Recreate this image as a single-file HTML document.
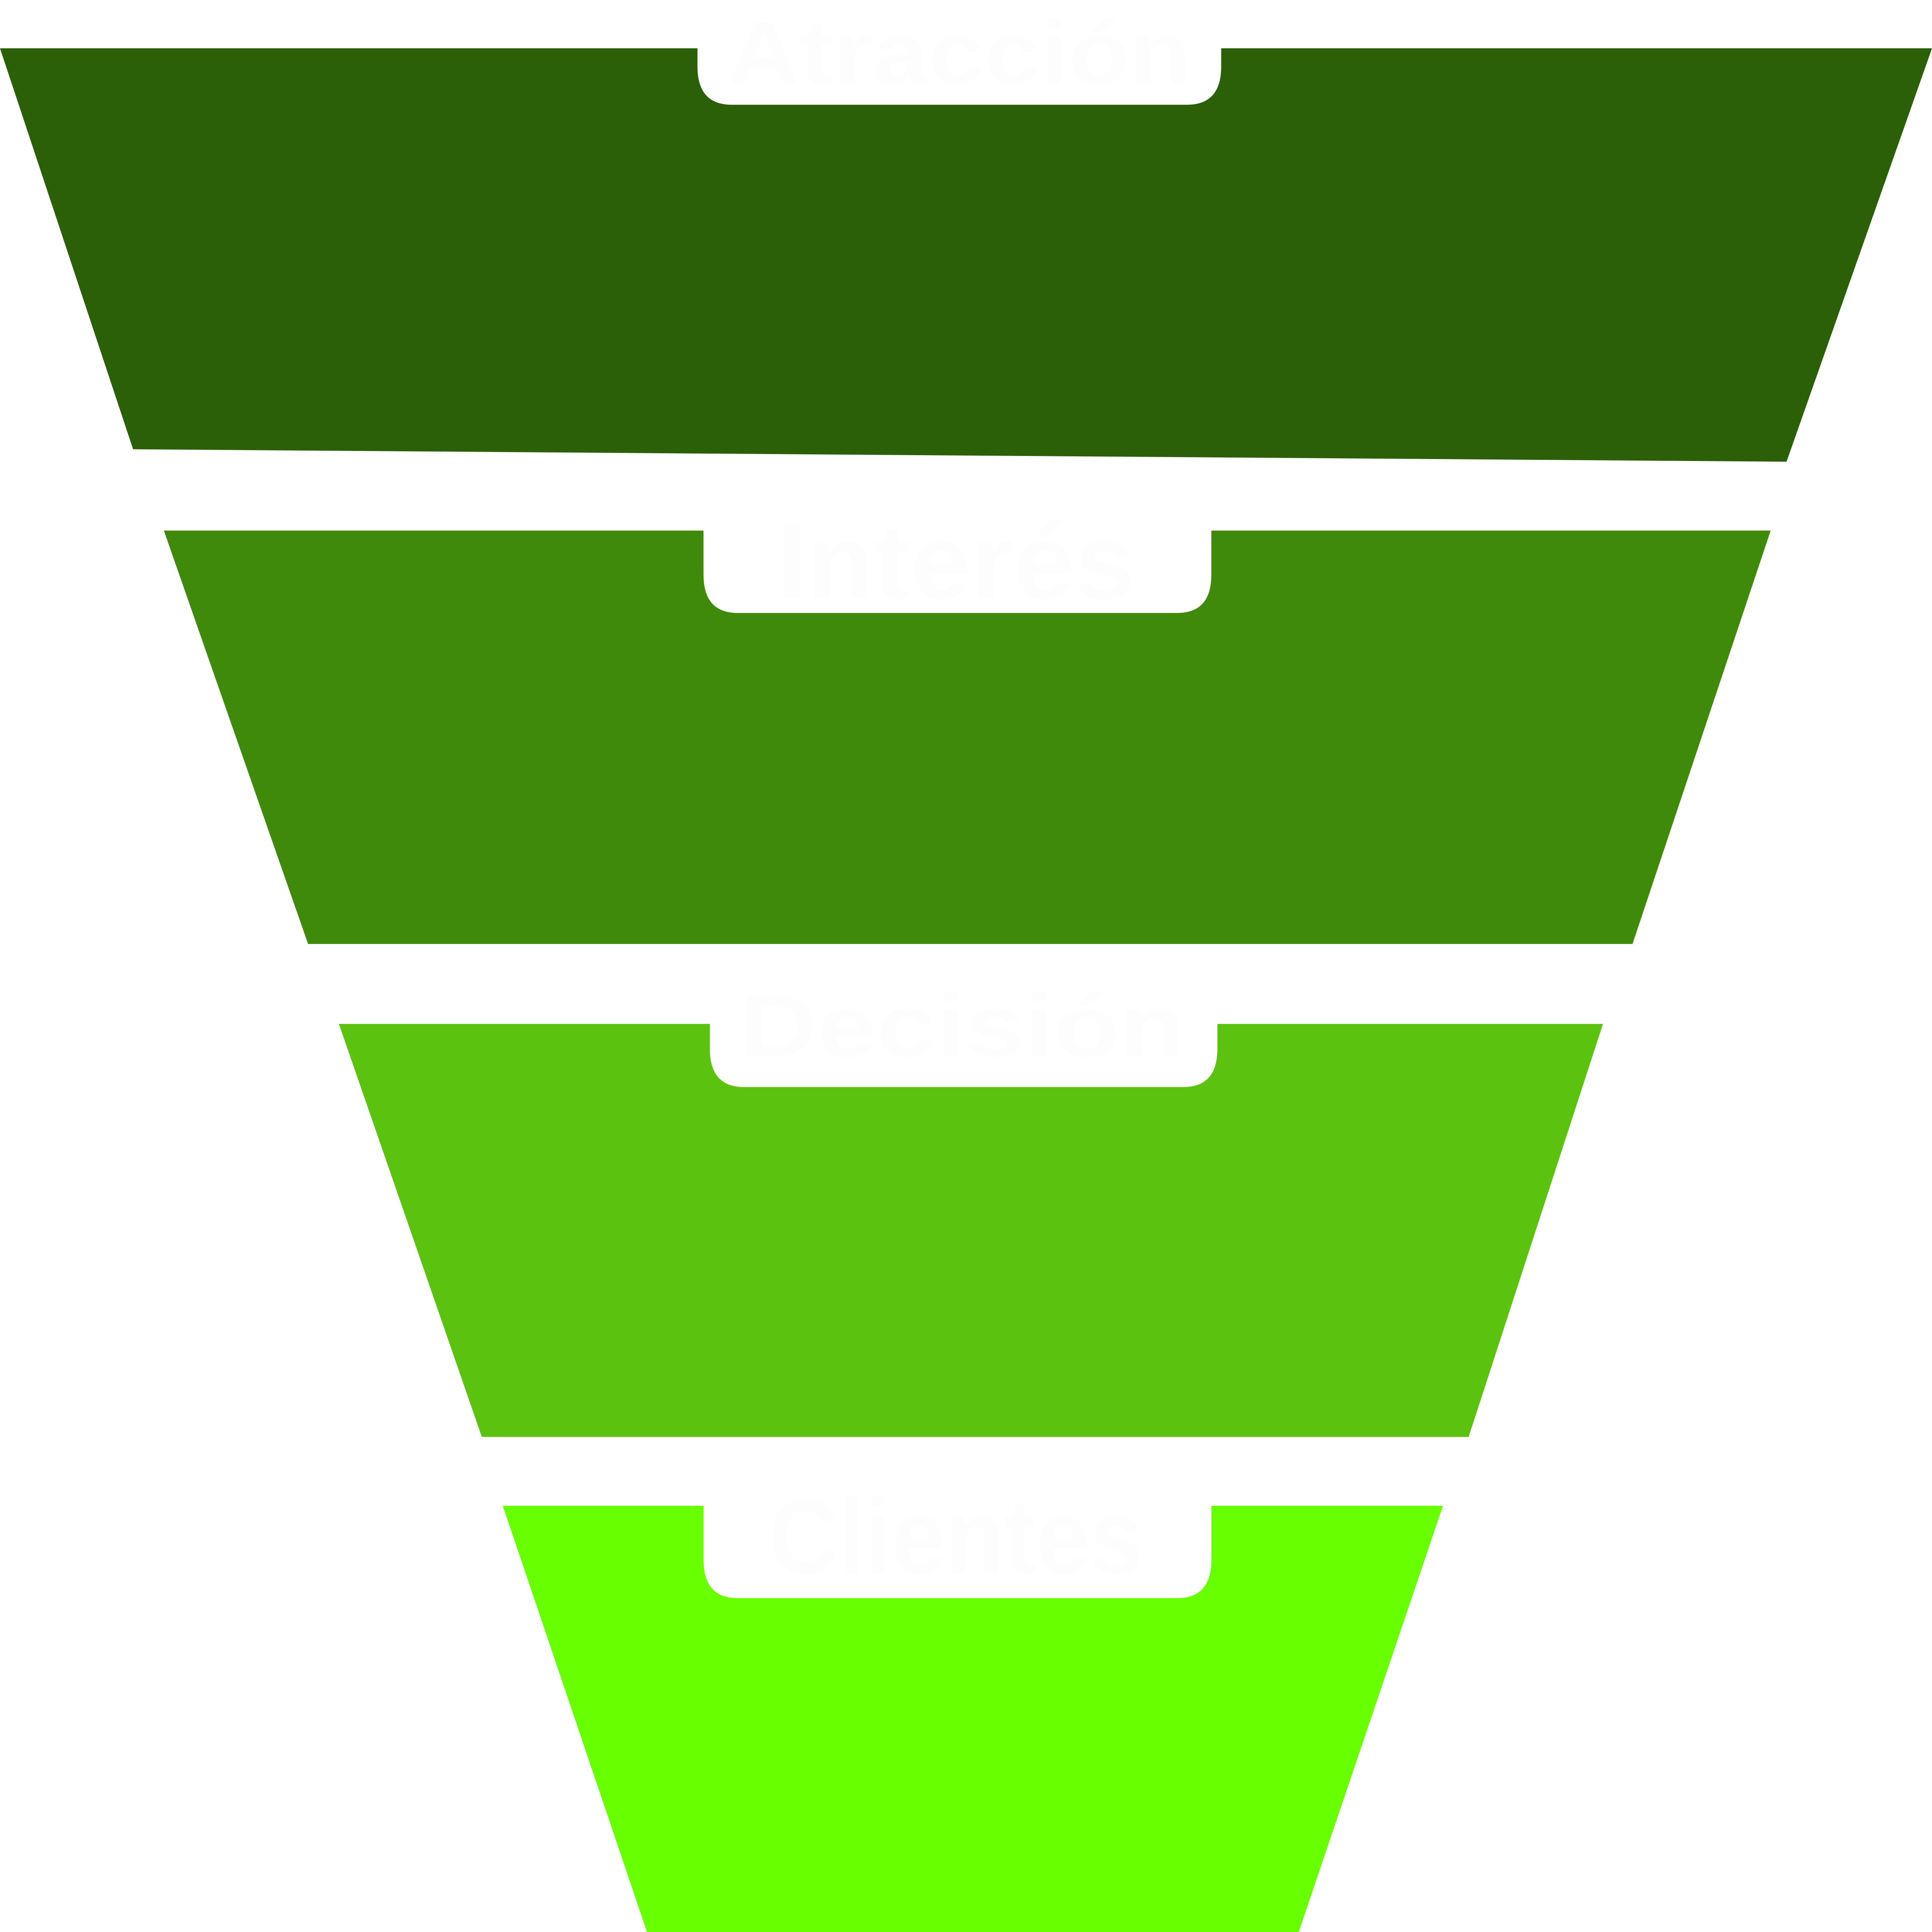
<!DOCTYPE html>
<html><head><meta charset="utf-8"><style>
html,body{margin:0;padding:0;background:#fff;overflow:hidden;width:100%;height:100%;}
svg{display:block;width:100vw;height:100vh;}
text{font-family:"Liberation Sans",sans-serif;font-weight:bold;fill:#fdfdfd;}
</style></head><body>
<svg viewBox="0 0 6083 5440" preserveAspectRatio="none" xmlns="http://www.w3.org/2000/svg">
<rect width="6083" height="5440" fill="#fff"/>
<polygon points="0,136 6083,136 5625,1300 419,1265" fill="#2b5f08"/>
<path d="M2196,-10 H3845 V187 Q3845,295 3737,295 H2304 Q2196,295 2196,187 Z" fill="#fff"/>
<text x="3020" y="235" font-size="250" text-anchor="middle" textLength="1460" lengthAdjust="spacingAndGlyphs">Atracción</text>

<polygon points="516,1494 5575,1494 5140,2658 970,2658" fill="#3f8a0b"/>
<path d="M2215,1380 H3814 V1618 Q3814,1726 3706,1726 H2323 Q2215,1726 2215,1618 Z" fill="#fff"/>
<text x="3010" y="1685" font-size="300" text-anchor="middle" textLength="1130" lengthAdjust="spacingAndGlyphs">Interés</text>

<polygon points="1067,2883 5047,2883 4624,4046 1517,4046" fill="#5bc310"/>
<path d="M2235,2780 H3833 V2953 Q3833,3061 3725,3061 H2343 Q2235,3061 2235,2953 Z" fill="#fff"/>
<text x="3030" y="2975" font-size="250" text-anchor="middle" textLength="1400" lengthAdjust="spacingAndGlyphs">Decisión</text>

<polygon points="1583,4240 4543,4240 4089,5440 2037,5440" fill="#68ff00"/>
<path d="M2215,4130 H3814 V4392 Q3814,4500 3706,4500 H2323 Q2215,4500 2215,4392 Z" fill="#fff"/>
<text x="3010" y="4430" font-size="300" text-anchor="middle" textLength="1180" lengthAdjust="spacingAndGlyphs">Clientes</text>
</svg>
</body></html>
